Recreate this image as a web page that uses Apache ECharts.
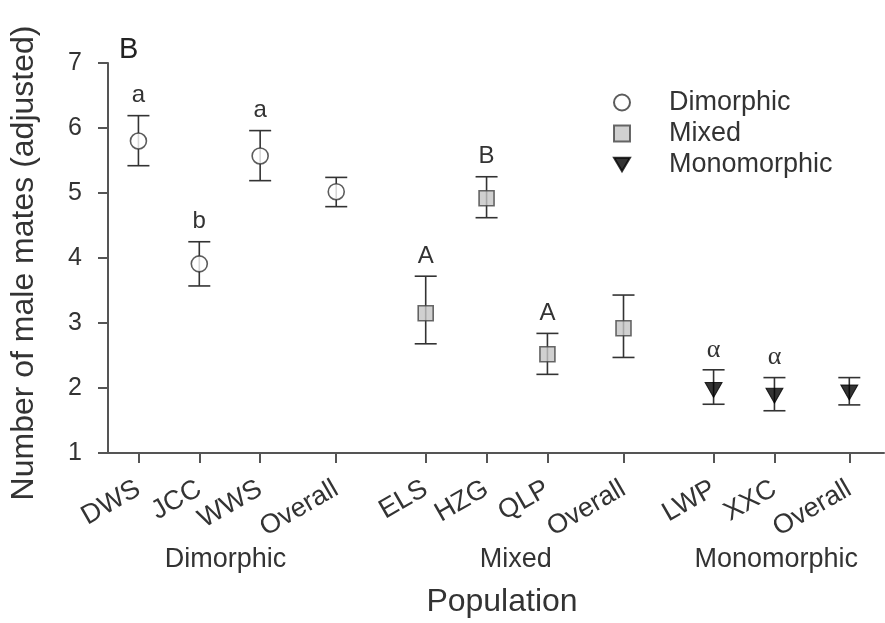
<!DOCTYPE html>
<html>
<head>
<meta charset="utf-8">
<script src="https://cdn.jsdelivr.net/npm/echarts@6/dist/echarts.min.js"></script>
<style>
html,body{margin:0;padding:0;background:#fff;}
#chart{width:885px;height:623px;}
</style>
</head>
<body>
<div id="chart"></div>
<script>
// ---- data ----
const categories = ['DWS','JCC','WWS','Overall','ELS','HZG','QLP','Overall','LWP','XXC','Overall'];
const positions  = [1, 2, 3, 4.25, 5.72, 6.72, 7.72, 8.97, 10.45, 11.45, 12.68];
const groupOf    = ['Dimorphic','Dimorphic','Dimorphic','Dimorphic','Mixed','Mixed','Mixed','Mixed','Monomorphic','Monomorphic','Monomorphic'];
const means      = [5.80, 3.91, 5.57, 5.02, 3.15, 4.92, 2.52, 2.92, 1.97, 1.88, 1.93];
const upper      = [6.19, 4.25, 5.96, 5.24, 3.72, 5.25, 2.84, 3.43, 2.28, 2.16, 2.16];
const lower      = [5.42, 3.57, 5.19, 4.79, 2.68, 4.62, 2.21, 2.47, 1.75, 1.65, 1.74];
const letters    = ['a','b','a','','A','B','A','','α','α',''];
const groupNames = ['Dimorphic','Mixed','Monomorphic'];
const groupPos   = [2.43, 7.2, 11.48];
const yTicks     = [1,2,3,4,5,6,7];

const FONT = 'Liberation Sans, Arial, sans-serif';
const TXT = '#333';
const AX = '#555';

function pointsOf(g){
  const out = [];
  positions.forEach((p,i)=>{ if(groupOf[i]===g) out.push([p, means[i]]); });
  return out;
}
const errData = positions.map((p,i)=>[p, lower[i], upper[i]]);
const letterData = positions.map((p,i)=>[p, upper[i], letters[i]]).filter(d=>d[2]!=='');

const chart = echarts.init(document.getElementById('chart'));
chart.setOption({
  animation:false,
  backgroundColor:'#fff',
  title:{text:'B', left:114, top:30, textStyle:{fontFamily:FONT, fontSize:29, fontWeight:'normal', color:'#222'}},
  grid:{left:106, right:1, top:63, bottom:170, containLabel:false},
  legend:{
    orient:'vertical', left:613, top:89, padding:0, itemWidth:16, itemHeight:16, itemGap:4,
    data:groupNames,
    textStyle:{fontFamily:FONT, fontSize:27, color:TXT, lineHeight:27, padding:[0,0,0,34]}
  },
  xAxis:[{
    type:'value', min:0.5, max:13.25,
    axisLine:{show:true, lineStyle:{color:AX, width:2}},
    axisTick:{show:true, length:10, lineStyle:{color:AX, width:2}, customValues:positions},
    axisLabel:{customValues:positions, rotate:30, margin:34, fontFamily:FONT, fontSize:27, color:TXT,
      formatter:(v)=>{const i=positions.indexOf(v); return i>=0?categories[i]:'';}},
    splitLine:{show:false}
  },{
    type:'value', min:0.5, max:13.25, position:'bottom', offset:93,
    axisLine:{show:false}, axisTick:{show:false}, splitLine:{show:false},
    axisLabel:{customValues:groupPos, margin:0, fontFamily:FONT, fontSize:27, color:TXT,
      formatter:(v)=>{const i=groupPos.indexOf(v); return i>=0?groupNames[i]:'';}},
    name:'Population', nameLocation:'middle', nameGap:40,
    nameTextStyle:{fontFamily:FONT, fontSize:32, color:TXT, padding:[0,0,0,12]}
  }],
  yAxis:{
    type:'value', min:1, max:7, interval:1,
    axisLine:{show:true, lineStyle:{color:AX, width:2}},
    axisTick:{show:true, length:10, lineStyle:{color:AX, width:2}},
    axisLabel:{margin:26, fontFamily:FONT, fontSize:25, color:TXT},
    splitLine:{show:false},
    name:'Number of male mates (adjusted)', nameLocation:'middle', nameGap:68,
    nameTextStyle:{fontFamily:FONT, fontSize:32, color:TXT, padding:[0,10,0,0]}
  },
  series:[
    {
      type:'custom', name:'err', z:1, data:errData, encode:{x:0, y:[1,2]},
      renderItem:(params, api)=>{
        const x = api.value(0);
        const lo = api.coord([x, api.value(1)]);
        const hi = api.coord([x, api.value(2)]);
        const hw = 11;
        const st = {stroke:'#333', lineWidth:1.6};
        return {type:'group', children:[
          {type:'line', shape:{x1:lo[0], y1:lo[1], x2:hi[0], y2:hi[1]}, style:st},
          {type:'line', shape:{x1:lo[0]-hw, y1:lo[1], x2:lo[0]+hw, y2:lo[1]}, style:st},
          {type:'line', shape:{x1:hi[0]-hw, y1:hi[1], x2:hi[0]+hw, y2:hi[1]}, style:st}
        ]};
      }
    },
    {
      type:'custom', name:'letters', z:3, data:letterData, encode:{x:0, y:1},
      renderItem:(params, api)=>{
        const i = params.dataIndex;
        const c = api.coord([api.value(0), api.value(1)]);
        const t = letterData[i][2];
        const greek = t==='α';
        return {type:'text', x:c[0], y:c[1]-20, style:{
          text:t, fill:TXT, align:'center', verticalAlign:'middle',
          font: greek ? '26px "Liberation Serif", serif' : '24px "Liberation Sans", Arial, sans-serif'
        }};
      }
    },
    {
      type:'scatter', name:'Dimorphic', z:5, data:pointsOf('Dimorphic'),
      symbol:'circle', symbolSize:16,
      itemStyle:{color:'#fff', borderColor:'#333', borderWidth:1.6}
    },
    {
      type:'scatter', name:'Mixed', z:5, data:pointsOf('Mixed'),
      symbol:'rect', symbolSize:15,
      itemStyle:{color:'#c4c4c4', borderColor:'#444', borderWidth:1.6}
    },
    {
      type:'scatter', name:'Monomorphic', z:5, data:pointsOf('Monomorphic'),
      symbol:'path://M0,0 L20,0 L10,17 Z', symbolSize:[17,15],
      itemStyle:{color:'#000', borderColor:'#000', borderWidth:1}
    }
  ]
});
</script>
</body>
</html>
